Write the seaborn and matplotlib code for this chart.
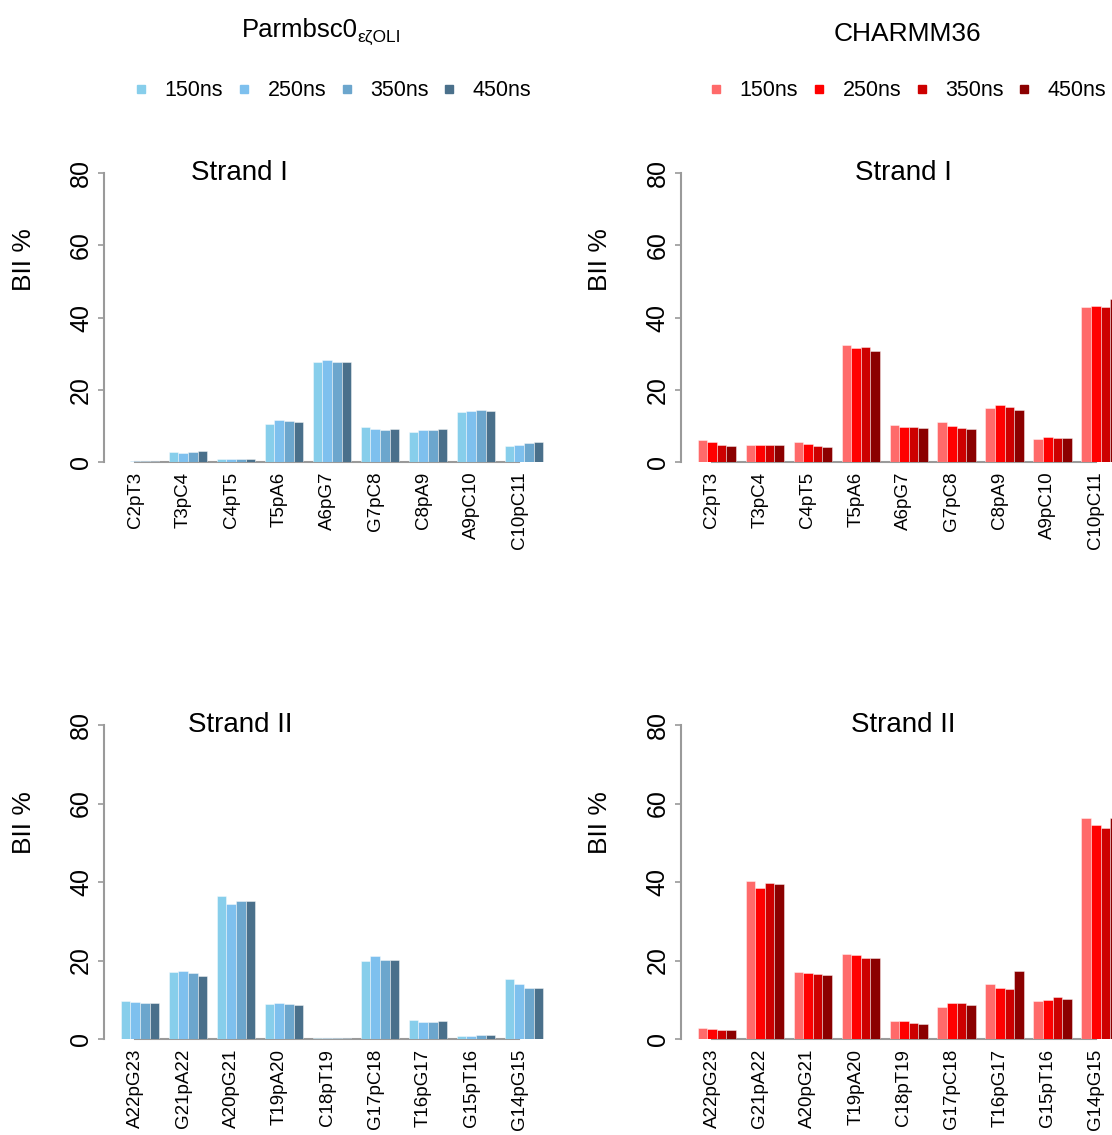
import numpy as np
import pandas as pd
import matplotlib
matplotlib.use("Agg")
import matplotlib.pyplot as plt
from matplotlib.lines import Line2D
import seaborn as sns

# ---------------- data ----------------
times = ["150ns", "250ns", "350ns", "450ns"]
strand1_steps = ["C2pT3", "T3pC4", "C4pT5", "T5pA6", "A6pG7", "G7pC8", "C8pA9", "A9pC10", "C10pC11"]
strand2_steps = ["A22pG23", "G21pA22", "A20pG21", "T19pA20", "C18pT19", "G17pC18", "T16pG17", "G15pT16", "G14pG15"]

parm_s1_150 = [0.1, 2.7, 0.7, 10.5, 27.8, 9.6, 8.3, 13.8, 4.4]
parm_s1_250 = [0.2, 2.6, 0.7, 11.6, 28.2, 9.1, 8.9, 14.2, 4.8]
parm_s1_350 = [0.3, 2.7, 0.7, 11.3, 27.8, 8.9, 8.9, 14.5, 5.3]
parm_s1_450 = [0.4, 3.0, 0.7, 11.0, 27.6, 9.1, 9.2, 14.0, 5.4]

charmm_s1_150 = [6.2, 4.8, 5.6, 32.3, 10.2, 11.0, 14.9, 6.4, 42.8]
charmm_s1_250 = [5.4, 4.6, 4.9, 31.5, 9.6, 9.9, 15.9, 6.9, 43.3]
charmm_s1_350 = [4.7, 4.8, 4.5, 31.8, 9.6, 9.3, 15.1, 6.6, 42.8]
charmm_s1_450 = [4.5, 4.6, 4.2, 30.7, 9.3, 9.0, 14.4, 6.7, 45.1]

parm_s2_150 = [9.8, 17.1, 36.4, 9.0, 0.2, 19.9, 4.9, 0.8, 15.3]
parm_s2_250 = [9.5, 17.3, 34.5, 9.2, 0.2, 21.1, 4.4, 0.85, 14.0]
parm_s2_350 = [9.2, 16.7, 35.1, 9.0, 0.3, 20.1, 4.4, 1.0, 13.0]
parm_s2_450 = [9.1, 16.0, 35.1, 8.7, 0.3, 20.1, 4.5, 0.9, 13.0]

charmm_s2_150 = [2.7, 40.3, 17.1, 21.7, 4.5, 8.2, 14.0, 9.6, 56.3]
charmm_s2_250 = [2.5, 38.4, 16.8, 21.4, 4.6, 9.1, 13.0, 9.9, 54.4]
charmm_s2_350 = [2.2, 39.7, 16.6, 20.7, 4.0, 9.1, 12.8, 10.6, 53.8]
charmm_s2_450 = [2.4, 39.6, 16.3, 20.6, 3.8, 8.7, 17.3, 10.1, 56.4]

blue_colors = ["#87CEEB", "#7EC0EE", "#6CA6CD", "#4A708B"]
red_colors = ["#FF6A6A", "#FF0000", "#CD0000", "#8B0000"]

# ---------------- style ----------------
sns.set_style("white")
plt.rcParams["font.family"] = ["Liberation Sans", "DejaVu Sans"]
for key in ["text.color", "axes.labelcolor", "xtick.color", "ytick.color"]:
    plt.rcParams[key] = "black"
AX_GRAY = "#9a9a9a"

W, H = 1112, 1135
fig = plt.figure(figsize=(W / 100, H / 100), dpi=100)


def long_df(steps, series):
    rows = []
    for t, vals in zip(times, series):
        for s, v in zip(steps, vals):
            rows.append({"step": s, "time": t, "bii": v})
    return pd.DataFrame(rows)


def px_axes(left_px, top_px, bottom_px, width_px=456):
    return fig.add_axes([left_px / W, 1 - bottom_px / H, width_px / W, (bottom_px - top_px) / H])


def panel(ax, steps, series, colors, title, title_x, ylab_y):
    df = long_df(steps, series)
    sns.barplot(data=df, x="step", y="bii", hue="time", order=steps, hue_order=times,
                palette=colors, saturation=1, width=0.8, edgecolor=(1, 1, 1, 0.6),
                linewidth=0.5, legend=False, ax=ax)
    ax.set_xlim(-0.752, 8.752)
    ax.set_ylim(0, 80)
    ax.set_yticks([0, 20, 40, 60, 80])
    ax.set_yticklabels(["0", "20", "40", "60", "80"], rotation=90, va="center")
    ax.set_xticks(np.arange(len(steps)) - 0.1)
    ax.set_xticklabels(steps, rotation=90, fontsize=13.5)
    ax.tick_params(axis="x", length=0, pad=7)
    ax.tick_params(axis="y", length=4, width=1.2, color=AX_GRAY, labelcolor="black",
                   labelsize=18, pad=4)
    ax.tick_params(left=True)
    for side in ["top", "right"]:
        ax.spines[side].set_visible(False)
    for side in ["left", "bottom"]:
        ax.spines[side].set_color(AX_GRAY)
        ax.spines[side].set_linewidth(1.5)
    ax.spines["bottom"].set_zorder(0.5)
    ax.spines["left"].set_bounds(0, 80)
    ax.spines["bottom"].set_bounds(-0.1, len(steps) - 1.1)
    ax.set_xlabel("")
    ax.set_ylabel("BII %", fontsize=19, color="black")
    ax.yaxis.set_label_coords(-0.150, ylab_y)
    ax.text(title_x, 1.0, title, transform=ax.transAxes, ha="center", va="center",
            fontsize=20, color="black")
    ax.grid(False)


ax_tl = px_axes(104, 173, 462)
ax_tr = px_axes(680.7, 173, 462)
ax_bl = px_axes(104, 725, 1039)
ax_br = px_axes(680.7, 725, 1039)

panel(ax_tl, strand1_steps, [parm_s1_150, parm_s1_250, parm_s1_350, parm_s1_450], blue_colors, "Strand I", 0.298, 0.70)
panel(ax_tr, strand1_steps, [charmm_s1_150, charmm_s1_250, charmm_s1_350, charmm_s1_450], red_colors, "Strand I", 0.488, 0.70)
panel(ax_bl, strand2_steps, [parm_s2_150, parm_s2_250, parm_s2_350, parm_s2_450], blue_colors, "Strand II", 0.298, 0.69)
panel(ax_br, strand2_steps, [charmm_s2_150, charmm_s2_250, charmm_s2_350, charmm_s2_450], red_colors, "Strand II", 0.488, 0.69)

# column titles
fig.text(358 / W, 1 - 37 / H, "Parmbsc0", ha="right", va="baseline", fontsize=18.5)
fig.text(357 / W, 1 - 42 / H, "εζOLI", ha="left", va="baseline", fontsize=12.5)
fig.text(907 / W, 1 - 41 / H, "CHARMM36", ha="center", va="baseline", fontsize=19)


# legends
def legend_for(ax, colors, cx):
    handles = [Line2D([], [], marker="s", linestyle="", color=c, markersize=6) for c in colors]
    ax.legend(handles, times, loc="center", bbox_to_anchor=(cx / W, 1 - 91 / H),
              bbox_transform=fig.transFigure, ncol=4, frameon=False, fontsize=15.5,
              handlelength=0.8, handletextpad=0.7, columnspacing=0.55, borderpad=0)


legend_for(ax_tl, blue_colors, 332)
legend_for(ax_tr, red_colors, 907)

fig.savefig("out.png", dpi=100)
